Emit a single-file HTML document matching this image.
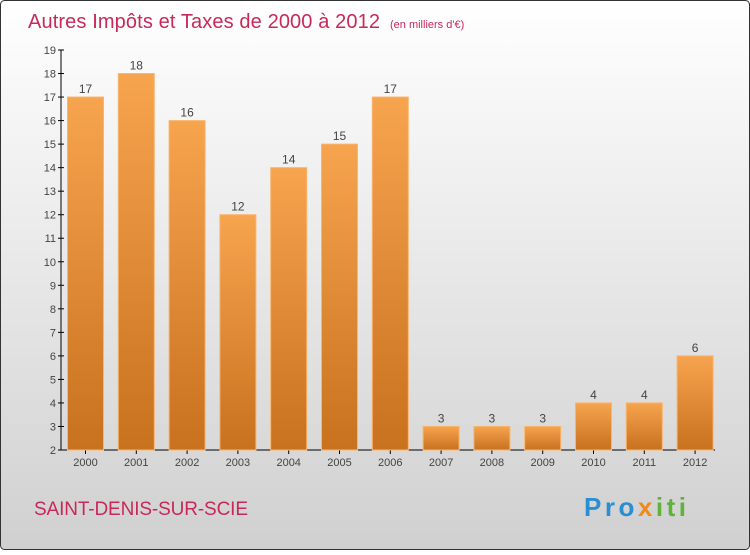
<!DOCTYPE html>
<html><head><meta charset="utf-8"><style>
body{margin:0;width:750px;height:550px;overflow:hidden;font-family:"Liberation Sans",sans-serif}
</style></head><body>
<svg width="750" height="550" xmlns="http://www.w3.org/2000/svg">
<defs>
<linearGradient id="bg" x1="0" y1="0" x2="0" y2="1"><stop offset="0" stop-color="#ffffff"/><stop offset="1" stop-color="#d0d0d0"/></linearGradient>
<linearGradient id="bar" x1="0" y1="0" x2="0" y2="1"><stop offset="0" stop-color="#f7a44f"/><stop offset="1" stop-color="#c8711e"/></linearGradient>
</defs>
<rect x="0.5" y="0.5" width="749" height="549" rx="4" fill="url(#bg)" stroke="#333"/>
<text x="28" y="28" font-size="20" fill="#c8285a" textLength="352">Autres Impôts et Taxes de 2000 à 2012</text>
<text x="390" y="28" font-size="11" fill="#c8285a">(en milliers d'€)</text>
<g id="axes"></g><g id="bars"></g>
<text x="34" y="515" font-size="19" fill="#c8285a" textLength="214">SAINT-DENIS-SUR-SCIE</text>
<text x="584" y="516" font-size="26" font-weight="bold" textLength="102"><tspan fill="#2a8fd0">Pro</tspan><tspan fill="#f08a1c">x</tspan><tspan fill="#5fb23a">iti</tspan></text>
</svg>
<script>
const categories=["2000","2001","2002","2003","2004","2005","2006","2007","2008","2009","2010","2011","2012"];
const values=[17,18,16,12,14,15,17,3,3,3,4,4,6];
const yTicks=[2,3,4,5,6,7,8,9,10,11,12,13,14,15,16,17,18,19];
const NS="http://www.w3.org/2000/svg";
const y=v=>450-(v-2)*400/17;
const x=i=>85.5+i*50.8;
function mk(t,a,p){const e=document.createElementNS(NS,t);for(const k in a)e.setAttribute(k,a[k]);p.appendChild(e);return e;}
const ax=document.getElementById('axes'),bg=document.getElementById('bars');
let l=mk('line',{x1:61,y1:50,x2:61,y2:450,stroke:'#000'},ax);


l=mk('line',{x1:61,y1:450,x2:715,y2:450,stroke:'#000'},ax);


yTicks.forEach(v=>{
 mk('line',{x1:58,x2:64,y1:y(v),y2:y(v),stroke:'#000'},ax);
 const t=mk('text',{x:56,y:y(v)+4,'font-size':11,'text-anchor':'end',fill:'#444'},ax);t.textContent=v;
 
 
});
categories.forEach((c,i)=>{
 mk('line',{x1:x(i),x2:x(i),y1:450,y2:454,stroke:'#000'},ax);
 const t=mk('text',{x:x(i),y:466,'font-size':11,'text-anchor':'middle',fill:'#444'},ax);t.textContent=c;
 
 
 const r=mk('rect',{x:x(i)-18,y:y(values[i]),width:36,height:450-y(values[i]),fill:'url(#bar)',stroke:'#f9b56e','stroke-width':1},bg);
 
 
 const v=mk('text',{x:x(i),y:y(values[i])-4,'font-size':12,'text-anchor':'middle',fill:'#444'},bg);v.textContent=values[i];
 
 
});
</script>
</body></html>
